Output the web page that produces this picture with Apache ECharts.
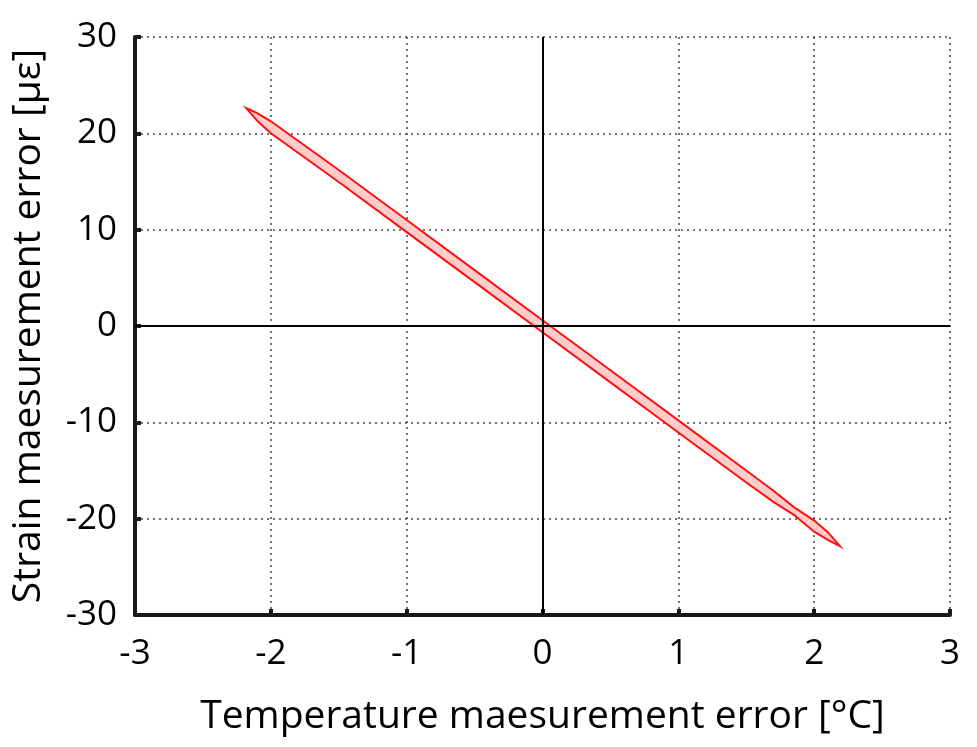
<!DOCTYPE html>
<html>
<head>
<meta charset="utf-8">
<script src="https://cdn.jsdelivr.net/npm/echarts@6/dist/echarts.min.js"></script>
<style>
html,body{margin:0;padding:0;background:#fff;}
#chart{width:977px;height:747px;}
</style>
</head>
<body>
<div id="chart"></div>
<script>
// Band outline: upper edge (left tip -> right tip) and lower edge
const upperX = [-2.18, -2.1, -2.0, -1.5, -1.0, -0.5, 0.0, 0.5, 1.0, 1.5, 1.7, 1.85, 2.0, 2.1, 2.19];
const upperY = [22.6, 22.1, 21.25, 16.2, 11.0, 5.8, 0.6, -4.6, -9.8, -15.0, -17.1, -18.8, -20.2, -21.4, -22.85];
const lowerX = [-2.18, -2.1, -2.0, -1.5, -1.0, -0.5, 0.0, 0.5, 1.0, 1.5, 1.7, 1.85, 2.0, 2.1, 2.19];
const lowerY = [22.6, 21.3, 20.0, 14.95, 9.75, 4.55, -0.65, -5.85, -11.05, -16.25, -18.25, -19.6, -21.35, -22.2, -22.85];

const xTicks = [-3, -2, -1, 0, 1, 2, 3];
const yTicks = [-30, -20, -10, 0, 10, 20, 30];

const FONT = "'Open Sans', 'Noto Sans', sans-serif";

const chart = echarts.init(document.getElementById('chart'), null, {renderer: 'canvas'});

const option = {
  animation: false,
  backgroundColor: '#fff',
  grid: {left: 135, right: 27, top: 37, bottom: 132},
  xAxis: {
    type: 'value',
    min: xTicks[0], max: xTicks[xTicks.length - 1], interval: 1,
    name: 'Temperature maesurement error [°C]',
    nameLocation: 'middle',
    nameGap: 82,
    nameTextStyle: {fontFamily: FONT, fontSize: 39, color: '#000'},
    axisLine: {onZero: false, lineStyle: {color: '#1a1a1a', width: 4}},
    axisTick: {inside: true, length: 6, lineStyle: {color: '#1a1a1a', width: 4}},
    axisLabel: {fontFamily: FONT, fontSize: 35, color: '#000', margin: 22},
    splitLine: {show: true, lineStyle: {color: '#444', type: [2, 4], width: 1.5}}
  },
  yAxis: {
    type: 'value',
    min: yTicks[0], max: yTicks[yTicks.length - 1], interval: 10,
    name: 'Strain maesurement error [µε]',
    nameLocation: 'middle',
    nameGap: 87,
    nameTextStyle: {fontFamily: FONT, fontSize: 39, color: '#000'},
    axisLine: {show: true, onZero: false, lineStyle: {color: '#1a1a1a', width: 4}},
    axisTick: {show: true, inside: true, length: 6, lineStyle: {color: '#1a1a1a', width: 4}},
    axisLabel: {fontFamily: FONT, fontSize: 35, color: '#000', margin: 18},
    splitLine: {show: true, lineStyle: {color: '#444', type: [2, 4], width: 1.5}}
  },
  series: [
    {
      type: 'custom',
      z: 2,
      silent: true,
      data: [0],
      renderItem: function (params, api) {
        const pts = [];
        for (let i = 0; i < upperX.length; i++) pts.push(api.coord([upperX[i], upperY[i]]));
        for (let i = lowerX.length - 1; i >= 0; i--) pts.push(api.coord([lowerX[i], lowerY[i]]));
        return {
          type: 'polygon',
          shape: {points: pts},
          style: {fill: '#ffcccc', stroke: '#ff1010', lineWidth: 2}
        };
      }
    },
    {
      type: 'line',
      z: 5,
      data: [],
      silent: true,
      markLine: {
        silent: true,
        symbol: 'none',
        label: {show: false},
        lineStyle: {color: '#000', type: 'solid', width: 2},
        data: [{xAxis: 0}, {yAxis: 0}]
      }
    }
  ]
};
chart.setOption(option);
</script>
</body>
</html>
